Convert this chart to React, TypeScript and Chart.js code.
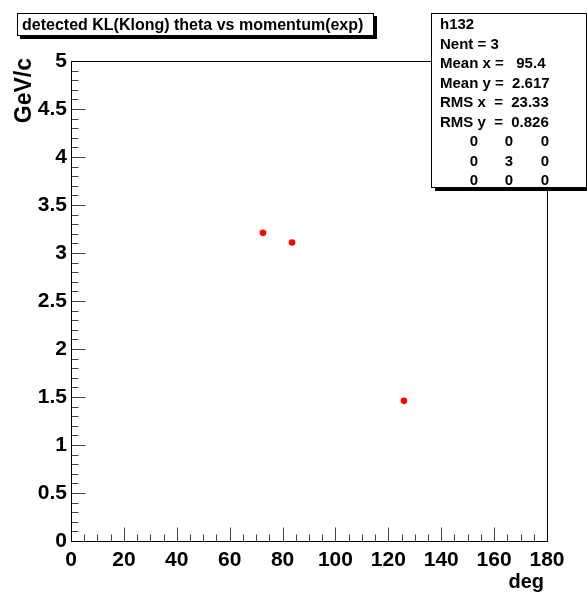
import React, { useEffect, useRef } from "react";
import { Chart, registerables } from "chart.js";

Chart.register(...registerables);

// Detected KL candidates: polar angle (deg) and momentum (GeV/c)
const thetaDeg = [72.6, 83.6, 125.9];
const momentumGeV = [3.21, 3.11, 1.46];

const xRange = [0, 180];
const yRange = [0, 5];
const xMajorStep = 20;
const xMinorStep = 5;
const yMajorStep = 0.5;
const yMinorStep = 0.1;

const histTitle = "detected KL(Klong) theta vs momentum(exp)";
const xAxisTitle = "deg";
const yAxisTitle = "GeV/c";

const statsLines = [
  "h132",
  "Nent = 3",
  "Mean x =   95.4",
  "Mean y =  2.617",
  "RMS x  =  23.33",
  "RMS y  =  0.826",
];
const statsOverflow = [
  [0, 0, 0],
  [0, 3, 0],
  [0, 0, 0],
];

const FONT = '"Liberation Sans", Arial, Helvetica, sans-serif';

const rootStylePlugin = {
  id: "rootStyle",
  beforeDatasetsDraw(chart: any) {
    const { ctx, chartArea } = chart;
    const xs = chart.scales.x;
    const ys = chart.scales.y;
    const L = Math.round(chartArea.left) + 0.5;
    const R = Math.round(chartArea.right) + 0.5;
    const T = Math.round(chartArea.top) + 0.5;
    const B = Math.round(chartArea.bottom) + 0.5;
    ctx.save();
    // inward tick marks on the left and bottom axes
    ctx.strokeStyle = "#444";
    ctx.lineWidth = 1;
    ctx.beginPath();
    const nY = Math.round((yRange[1] - yRange[0]) / yMinorStep);
    for (let i = 0; i <= nY; i++) {
      const v = yRange[0] + i * yMinorStep;
      const py = Math.round(ys.getPixelForValue(v)) + 0.5;
      const major = i % Math.round(yMajorStep / yMinorStep) === 0;
      ctx.moveTo(L, py);
      ctx.lineTo(L + (major ? 14 : 7), py);
    }
    const nX = Math.round((xRange[1] - xRange[0]) / xMinorStep);
    for (let i = 0; i <= nX; i++) {
      const v = xRange[0] + i * xMinorStep;
      const px = Math.round(xs.getPixelForValue(v)) + 0.5;
      const major = i % Math.round(xMajorStep / xMinorStep) === 0;
      ctx.moveTo(px, B);
      ctx.lineTo(px, B - (major ? 14 : 7));
    }
    ctx.stroke();
    // frame
    ctx.strokeStyle = "#000";
    ctx.strokeRect(L, T, R - L, B - T);
    ctx.restore();
  },
  afterDraw(chart: any) {
    const { ctx, chartArea } = chart;
    ctx.save();

    // title box with drop shadow
    ctx.fillStyle = "#000";
    ctx.fillRect(20, 36, 357, 3);
    ctx.fillRect(374, 16, 3, 23);
    ctx.fillStyle = "#fff";
    ctx.fillRect(17.5, 13.5, 356, 22);
    ctx.strokeStyle = "#000";
    ctx.lineWidth = 1;
    ctx.strokeRect(17.5, 13.5, 356, 22);
    ctx.fillStyle = "#000";
    ctx.font = `bold 16px ${FONT}`;
    ctx.textAlign = "left";
    ctx.textBaseline = "alphabetic";
    ctx.fillText(histTitle, 22, 30);

    // statistics box
    ctx.fillStyle = "#000";
    ctx.fillRect(435, 188, 160, 3);
    ctx.fillStyle = "#fff";
    ctx.fillRect(431.5, 13.5, 155, 174);
    ctx.strokeRect(431.5, 13.5, 155, 174);
    ctx.fillStyle = "#000";
    ctx.font = `bold 15px ${FONT}`;
    statsLines.forEach((s, i) => {
      ctx.fillText(s, 440, 29 + i * 19.5);
    });
    ctx.textAlign = "center";
    const cols = [474, 509, 545];
    statsOverflow.forEach((row, r) => {
      row.forEach((v, c) => {
        ctx.fillText(String(v), cols[c], 29 + (statsLines.length + r) * 19.5);
      });
    });

    // axis titles
    ctx.font = `bold 20px ${FONT}`;
    ctx.textAlign = "right";
    ctx.fillText(xAxisTitle, Math.round(chartArea.right) - 3, 588);
    ctx.font = `bold 23px ${FONT}`;
    ctx.translate(31, Math.round(chartArea.top) - 3);
    ctx.rotate(-Math.PI / 2);
    ctx.textAlign = "right";
    ctx.fillText(yAxisTitle, 0, 0);
    ctx.restore();
  },
};

export default function App() {
  const canvasRef = useRef<HTMLCanvasElement | null>(null);

  useEffect(() => {
    const canvas = canvasRef.current;
    if (!canvas) return;
    const tickFont = { family: FONT, size: 21, weight: "bold" as const };
    const chart = new Chart(canvas, {
      type: "scatter",
      data: {
        datasets: [
          {
            data: thetaDeg.map((x, i) => ({ x, y: momentumGeV[i] })),
            pointRadius: 3.3,
            pointHoverRadius: 3.3,
            pointBackgroundColor: "#ff0000",
            pointBorderWidth: 0,
            showLine: false,
          },
        ],
      },
      options: {
        animation: false,
        responsive: false,
        maintainAspectRatio: false,
        events: [],
        layout: { padding: { left: 0, top: 61, right: 40, bottom: 0 } },
        plugins: {
          legend: { display: false },
          tooltip: { enabled: false },
          title: { display: false },
        },
        scales: {
          x: {
            type: "linear",
            min: xRange[0],
            max: xRange[1],
            grid: { display: false, drawTicks: false },
            border: { display: false },
            ticks: {
              stepSize: xMajorStep,
              color: "#000",
              font: tickFont,
              padding: 7,
              maxRotation: 0,
              autoSkip: false,
              callback: (v: any) => String(v),
            },
            afterFit: (s: any) => {
              s.height = 53;
            },
          },
          y: {
            type: "linear",
            min: yRange[0],
            max: yRange[1],
            grid: { display: false, drawTicks: false },
            border: { display: false },
            ticks: {
              stepSize: yMajorStep,
              color: "#000",
              font: tickFont,
              padding: 4,
              autoSkip: false,
              callback: (v: any) => String(v),
            },
            afterFit: (s: any) => {
              s.width = 71;
            },
          },
        },
      },
      plugins: [rootStylePlugin],
    });
    return () => chart.destroy();
  }, []);

  return (
    <div style={{ position: "absolute", left: 0, top: 0, width: 587, height: 594, background: "#fff" }}>
      <canvas ref={canvasRef} width={587} height={594} style={{ display: "block" }} />
    </div>
  );
}
